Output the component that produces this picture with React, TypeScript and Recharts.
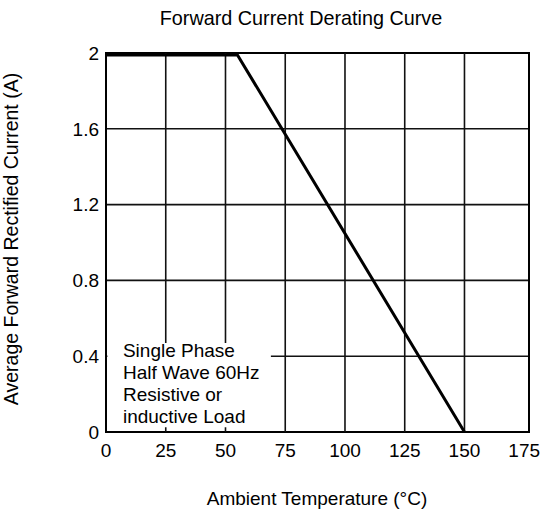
import { LineChart, Line, XAxis, YAxis, CartesianGrid, ReferenceArea, ReferenceLine } from 'recharts'

const temps = [0, 55, 150]
const currents = [1.99, 1.99, 0]
const xTicks = [0, 25, 50, 75, 100, 125, 150, 175]
const xGridTicks = [25, 50, 75, 100, 125, 150]
const yTicks = [0, 0.4, 0.8, 1.2, 1.6, 2]
const noteLines = ['Single Phase', 'Half Wave 60Hz', 'Resistive or', 'inductive Load']
// extent of the white note box in data units
const noteX = [0.6, 69]
const noteY = [0.025, 0.47]

const data = temps.map((t, i) => ({ t, current: currents[i] }))

const font = '"Liberation Sans", Arial, sans-serif'

const renderNote = (props: any) => {
  const vb = props.viewBox || {}
  return (
    <text x={vb.x + 15.5} y={vb.y + 14} fontFamily={font} fontSize={19} fill="#000">
      {noteLines.map((line, i) => (
        <tspan key={line} x={vb.x + 15.5} dy={i === 0 ? 0 : 21.9}>
          {line}
        </tspan>
      ))}
    </text>
  )
}

// vertical grid segments; lines behind the note box are split around it
const gridSegments = xGridTicks.flatMap((v) =>
  v > noteX[0] && v < noteX[1]
    ? [
        [{ x: v, y: 0 }, { x: v, y: noteY[0] }],
        [{ x: v, y: noteY[1] }, { x: v, y: 2 }],
      ]
    : [[{ x: v, y: 0 }, { x: v, y: 2 }]]
)

export default function App() {
  const tickStyle = { fill: '#000', fontSize: 19, fontFamily: font }
  return (
    <div style={{ position: 'absolute', left: 0, top: 0, width: 547, height: 513, background: '#fff' }}>
      <LineChart width={547} height={513} data={data} margin={{ top: 53, right: 18, bottom: 0, left: 0 }}>
        <CartesianGrid stroke="#111" strokeWidth={1.6} vertical={false} />
        <XAxis
          dataKey="t"
          type="number"
          domain={[0, 177]}
          ticks={xTicks}
          tick={tickStyle}
          tickLine={false}
          axisLine={false}
          tickSize={0}
          tickMargin={12}
          height={81}
          interval={0}
        />
        <YAxis
          type="number"
          domain={[0, 2]}
          ticks={yTicks}
          tick={tickStyle}
          tickLine={false}
          axisLine={false}
          tickSize={0}
          tickMargin={7}
          width={106}
          interval={0}
        />
        <ReferenceArea x1={noteX[0]} x2={noteX[1]} y1={noteY[0]} y2={noteY[1]} fill="#fff" fillOpacity={1} stroke="none" label={renderNote} />
        {gridSegments.map((seg, i) => (
          <ReferenceLine key={i} segment={seg} stroke="#111" strokeWidth={1.6} />
        ))}
        <Line dataKey="current" type="linear" stroke="#000" strokeWidth={3} dot={false} isAnimationActive={false} />
        <ReferenceArea x1={0} x2={177} y1={0} y2={2} fill="none" stroke="#000" strokeWidth={2} />
      </LineChart>
      <svg width={547} height={513} style={{ position: 'absolute', left: 0, top: 0, pointerEvents: 'none' }}>
        <text x={301} y={25} textAnchor="middle" fontFamily={font} fontSize={19.8} fill="#000">
          Forward Current Derating Curve
        </text>
        <text x={317} y={505} textAnchor="middle" fontFamily={font} fontSize={19} fill="#000">
          Ambient Temperature (°C)
        </text>
        <text x={17.5} y={239} textAnchor="middle" fontFamily={font} fontSize={19.5} fill="#000" transform="rotate(-90 17.5 239)">
          Average Forward Rectified Current (A)
        </text>
      </svg>
    </div>
  )
}
